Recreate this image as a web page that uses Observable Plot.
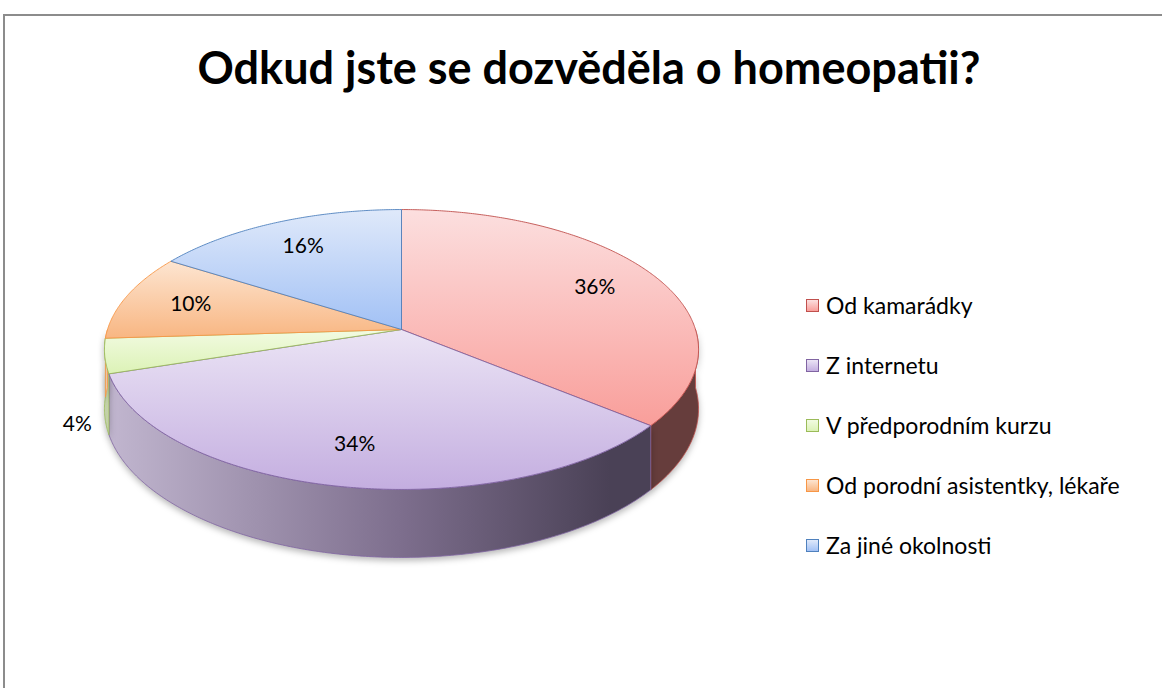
<!DOCTYPE html>
<html>
<head>
<meta charset="utf-8">
<script src="https://cdn.jsdelivr.net/npm/d3@7"></script>
<script src="https://cdn.jsdelivr.net/npm/@observablehq/plot@0.6"></script>
<style>
  body { margin: 0; background: #fff; }
  #wrap { position: relative; width: 1162px; height: 688px; overflow: hidden; font-family: Lato, "Open Sans", sans-serif; background: #fff; }
  #frame { position: absolute; left: 3px; top: 14px; width: 1300px; height: 800px; border-left: 2px solid #8c8c8c; border-top: 2px solid #8c8c8c; }
  #title { position: absolute; left: 0; width: 1178px; top: 45px; text-align: center; font-weight: bold; font-size: 45px; line-height: 1; color: #000; }
  #chart { position: absolute; left: 0; top: 0; }
  #legend { position: absolute; left: 806px; top: 295px; }
  .row { display: flex; align-items: center; height: 20px; margin-bottom: 40px; font-size: 23px; color: #000; white-space: nowrap; }
  .sw { width: 11px; height: 11px; border: 1.5px solid; margin-right: 7px; flex: none; }
</style>
</head>
<body>
<div id="wrap">
  <div id="frame"></div>
  <div id="chart"></div>
  <div id="title">Odkud jste se dozvěděla o homeopatii?</div>
  <div id="legend"></div>
</div>
<script>
// ---- data ----
const categories = ["Od kamarádky", "Z internetu", "V předporodním kurzu", "Od porodní asistentky, lékaře", "Za jiné okolnosti"];
const values = [36, 34, 4, 10, 16];
const labels = ["36%", "34%", "4%", "10%", "16%"];

// ---- styles ----
const edgeColors = ["#C0504D", "#8064A2", "#9BBB59", "#F79646", "#4F81BD"];
const topLight   = ["#FCDFDF", "#EBE4F5", "#F2FBE2", "#FDE5D1", "#DFE9FA"];
const topDark    = ["#F99E9A", "#C4AEE0", "#DCF2B6", "#F8B682", "#A2C1F5"];
const wallLight  = ["#D3A8A6", "#C2B7D0", "#C3D1A8", "#E8C6A8", "#B2C3DC"];
const wallMid    = ["#94605E", "#7D6E8D", "#86966A", "#B08560", "#6D7F9A"];
const wallDark   = ["#663D3C", "#4A4156", "#4F5A3A", "#6A4A33", "#323F55"];

// ---- 3D pie geometry (perspective tilt) ----
const k = 1 / 7;        // perspective factor
const H = 0.425;        // wall depth (in y-units)
const rad = Math.PI / 180;
function proj(thetaDeg, r = 1, h = 0) {
  const t = thetaDeg * rad;
  const u = r * Math.sin(t), v = -r * Math.cos(t);
  const den = 1 - k * v;
  return {X: u / den, Y: (v + h) / den};
}
const total = d3.sum(values);
let acc = 0;
const slices = values.map((v, i) => {
  const a0 = acc / total * 360; acc += v; const a1 = acc / total * 360;
  return {i, name: categories[i], value: v, label: labels[i], a0, a1};
});
function arcPts(a0, a1, h, step = 0.5) {
  const n = Math.max(2, Math.ceil((a1 - a0) / step));
  return d3.range(n + 1).map(j => proj(a0 + (a1 - a0) * j / n, 1, h));
}
function topPoly(s) {
  const c = proj(0, 0, 0);
  return [c, ...arcPts(s.a0, s.a1, 0), c];
}
function wallPoly(s) {
  const lo = Math.max(s.a0, 90), hi = Math.min(s.a1, 270);
  if (hi <= lo) return null;
  const top = arcPts(lo, hi, 0), bot = arcPts(lo, hi, H).reverse();
  return [...top, ...bot, top[0]];
}
function labelPos(s) {
  const mid = (s.a0 + s.a1) / 2;
  const share = s.value / total;
  if (share < 0.05) {
    const p = proj(mid, 1.09, H * 1.1);
    return {...p, label: s.label};
  }
  const p = proj(mid, 0.76, 0);
  return {...p, label: s.label};
}

const marks = [];
const markInfo = []; // [kind, sliceIndex] per mark, in order
slices.forEach(s => {
  const w = wallPoly(s);
  if (w) {
    marks.push(Plot.line(w, {x: "X", y: "Y", fill: "#999999", stroke: edgeColors[s.i], strokeWidth: 0.8}));
    markInfo.push(["wall", s.i]);
  }
});
slices.forEach(s => {
  marks.push(Plot.line(topPoly(s), {x: "X", y: "Y", fill: "#cccccc", stroke: edgeColors[s.i], strokeWidth: 0.9}));
  markInfo.push(["top", s.i]);
});
marks.push(Plot.text(slices.map(labelPos), {x: "X", y: "Y", text: "label", fontSize: 21, fill: "#000", fontFamily: "Lato, 'Open Sans', sans-serif"}));
markInfo.push(["text", -1]);

const chart = Plot.plot({
  width: 1162, height: 688,
  margin: 0,
  x: {domain: [-1, 1], range: [107, 695], axis: null},
  y: {domain: [-1, 1], range: [191.9, 466.1], axis: null},
  style: {background: "none", overflow: "visible"},
  marks
});

// gradients
const xs = chart.scale("x");
const svg = d3.select(chart);
const defs = svg.insert("defs", ":first-child");
slices.forEach(s => {
  const g = defs.append("linearGradient").attr("id", `gtop${s.i}`).attr("x1", 0).attr("y1", 0).attr("x2", 0).attr("y2", 1);
  g.append("stop").attr("offset", "0%").attr("stop-color", topLight[s.i]);
  g.append("stop").attr("offset", "100%").attr("stop-color", topDark[s.i]);
  const w = defs.append("linearGradient").attr("id", `gwall${s.i}`).attr("gradientUnits", "userSpaceOnUse")
    .attr("x1", xs.apply(-1.01)).attr("y1", 0).attr("x2", xs.apply(1.01)).attr("y2", 0);
  w.append("stop").attr("offset", "0%").attr("stop-color", wallLight[s.i]);
  w.append("stop").attr("offset", "50%").attr("stop-color", wallMid[s.i]);
  w.append("stop").attr("offset", "85%").attr("stop-color", wallDark[s.i]);
  w.append("stop").attr("offset", "100%").attr("stop-color", wallDark[s.i]);
});
const groups = Array.from(chart.children).filter(el => el.tagName.toLowerCase() === "g");
groups.forEach((el, j) => {
  const info = markInfo[j];
  if (!info) return;
  const [kind, i] = info;
  const gsel = d3.select(el);
  if (kind === "wall") {
    gsel.attr("fill", `url(#gwall${i})`).style("filter", "drop-shadow(0px 3px 3px rgba(0,0,0,0.28))");
    gsel.selectAll("path").attr("fill", `url(#gwall${i})`);
  } else if (kind === "top") {
    gsel.attr("fill", `url(#gtop${i})`);
    gsel.selectAll("path").attr("fill", `url(#gtop${i})`);
  }
});
document.getElementById("chart").appendChild(chart);

// legend
const leg = d3.select("#legend");
categories.forEach((c, i) => {
  const row = leg.append("div").attr("class", "row");
  row.append("div").attr("class", "sw")
    .style("border-color", edgeColors[i])
    .style("background", `linear-gradient(${topLight[i]}, ${topDark[i]})`);
  row.append("span").text(c);
});
</script>
</body>
</html>
